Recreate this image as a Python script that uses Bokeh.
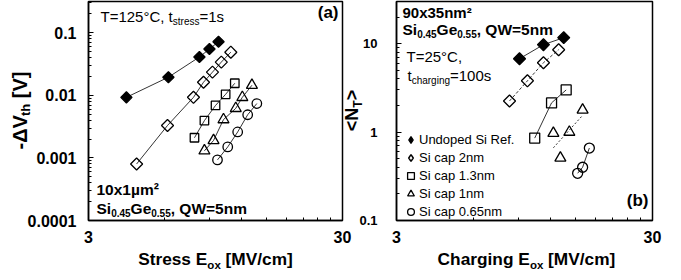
import math
import numpy as np
from bokeh.plotting import figure
from bokeh.layouts import row
from bokeh.models import (FixedTicker, CustomJSTickFormatter, Label, Legend,
                          LegendItem, Range1d, GridBox)
from bokeh.embed import file_html
from bokeh.resources import INLINE

# ---------------- data ----------------
# panel (a): stress E_ox [MV/cm] vs -dVth [V]
a_ref_E = [4.23, 6.19, 8.2, 8.98, 9.75]
a_ref_V = [0.0093, 0.0195, 0.041, 0.055, 0.072]
a_2nm_E = [4.64, 6.14, 7.77, 8.51, 9.23, 10.0, 10.9]
a_2nm_V = [0.0008, 0.0033, 0.0093, 0.0162, 0.0235, 0.034, 0.049]
a_13nm_E = [7.84, 8.58, 9.49, 10.4, 11.3]
a_13nm_V = [0.0021, 0.00395, 0.0069, 0.0104, 0.0156]
a_1nm_E = [8.58, 9.32, 10.2, 11.4, 12.1, 13.2]
a_1nm_V = [0.0013, 0.0019, 0.0041, 0.0062, 0.0093, 0.0145]
a_065nm_E = [9.66, 10.6, 11.6, 12.7, 13.8]
a_065nm_V = [0.00093, 0.0015, 0.0026, 0.0049, 0.0074]

# panel (b): charging E_ox [MV/cm] vs <N_T>
b_ref_E = [9.07, 11.25, 13.5]
b_ref_N = [6.76, 9.74, 11.7]
b_2nm_E = [8.29, 9.74, 11.25, 12.9]
b_2nm_N = [2.25, 3.8, 6.09, 8.55]
b_13nm_E = [10.4, 12.1, 13.8]
b_13nm_N = [0.855, 2.14, 3.0]
b_1nm_E = [12.3, 13.1, 14.2, 16.0]
b_1nm_N = [0.97, 0.51, 1.0, 1.78]
b_065nm_E = [15.3, 16.0, 17.0]
b_065nm_N = [0.342, 0.40, 0.66]

series_names = ["Undoped Si Ref.", "Si cap 2nm", "Si cap 1.3nm", "Si cap 1nm", "Si cap 0.65nm"]

x_major = [3, 30]
x_minor = [6, 9, 12, 15, 18, 21, 24, 27]
ya_major = [1e-4, 1e-3, 1e-2, 1e-1]
yb_major = [0.1, 1, 10]

FONT = "Liberation Sans"
TOTAL_W, TOTAL_H = 665, 270

# ---------------- text helpers ----------------
REG = {' ': 278, ',': 278, '.': 278, '=': 584, '°': 400, 'C': 722, 'T': 611,
       'a': 556, 'c': 500, 'e': 556, 'g': 556, 'h': 556, 'i': 222, 'n': 556,
       'r': 333, 's': 500, 't': 278, 'x': 500, 'm': 833}
BOLD = {' ': 278, ',': 278, '.': 278, '=': 584, 'x': 556, 'µ': 611, 'm': 889,
        'n': 611, 'S': 667, 'i': 278, 'G': 778, 'e': 556, 'Q': 778, 'W': 944,
        '(': 333, ')': 333, 'a': 556, 'b': 611, 't': 333, 'r': 389, 's': 556,
        'E': 667, 'o': 611, '[': 333, ']': 333, 'M': 833, 'V': 667, '/': 278,
        'c': 556, 'C': 722, 'h': 611, 'g': 611, '-': 333, 'Δ': 667, '<': 584,
        '>': 584, 'N': 722, 'T': 611, '²': 333}
MID = 0.35   # distance baseline -> middle of the em box, in em


def tw(s, size, bold):
    tbl = BOLD if bold else REG
    return sum(tbl.get(ch, 556) for ch in s) * size / 1000.0


def rich(p, x, y, parts, align="left", angle=0.0):
    """parts: (text, size_px, bold, baseline_drop_px); (x, y): baseline start,
    px from the frame's bottom-left corner"""
    total = sum(tw(t, s, b) for t, s, b, d in parts)
    pos = {"left": 0.0, "center": -total / 2, "right": -total}[align]
    for t, s, b, d in parts:
        lead = len(t) - len(t.lstrip(" "))
        pos += tw(" " * lead, s, b)          # SVG drops leading blanks
        t = t.lstrip(" ")
        if angle == 0:
            lx, ly = x + pos, y - d + MID * s
        else:
            lx, ly = x + d - MID * s, y + pos
        p.add_layout(Label(x=lx, y=ly, x_units="screen", y_units="screen", text=t,
                           angle=angle, text_font=FONT, text_font_size=f"{s}px",
                           text_font_style="bold" if b else "normal",
                           text_color="black", text_align="left",
                           text_baseline="middle"))
        pos += tw(t, s, b)


def minors(lo_exp, hi_exp):
    return [k * 10.0 ** e for e in range(lo_exp, hi_exp + 1) for k in range(2, 10)]


def style(p, ymaj, ymin, ystandoff, ysize):
    p.xgrid.visible = False
    p.ygrid.visible = False
    p.outline_line_color = "black"
    p.outline_line_width = 1.5
    p.background_fill_color = "white"
    p.border_fill_color = "white"
    fmt = CustomJSTickFormatter(code="return tick.toString();")
    p.xaxis.ticker = FixedTicker(ticks=x_major, minor_ticks=x_minor)
    p.yaxis.ticker = FixedTicker(ticks=ymaj, minor_ticks=ymin)
    for ax in (p.xaxis, p.yaxis):
        ax.formatter = fmt
        ax.axis_line_width = 1.5
        ax.axis_line_color = "black"
        ax.major_tick_in = 5
        ax.major_tick_out = 0
        ax.minor_tick_in = 3
        ax.minor_tick_out = 0
        ax.major_tick_line_color = "black"
        ax.minor_tick_line_color = "black"
        ax.major_label_text_font = FONT
        ax.major_label_text_font_style = "bold"
        ax.major_label_text_color = "black"
    p.xaxis.major_label_text_font_size = "16px"
    p.yaxis.major_label_text_font_size = ysize
    p.xaxis.major_label_standoff = 10
    p.yaxis.major_label_standoff = ystandoff


LW = 0.8

# ---------------- panel (a) ----------------
p1 = figure(width=356, height=TOTAL_H, x_axis_type="log", y_axis_type="log",
            x_range=Range1d(3, 30), y_range=Range1d(1e-4, 10 ** -0.5),
            output_backend="svg", toolbar_location=None,
            min_border_left=88, min_border_right=14, min_border_top=1,
            min_border_bottom=50)
style(p1, ya_major, minors(-4, -1), 12, "16px")

p1.line(a_ref_E, a_ref_V, line_color="black", line_width=LW)
p1.line(a_2nm_E, a_2nm_V, line_color="black", line_width=LW)
p1.line(a_13nm_E, a_13nm_V, line_color="black", line_width=LW)
p1.line(a_1nm_E, a_1nm_V, line_color="black", line_width=LW)
p1.line(a_065nm_E, a_065nm_V, line_color="black", line_width=LW)
p1.scatter(a_ref_E, a_ref_V, marker="square", angle=math.pi / 4, size=8,
           fill_color="black", line_color="black", line_width=1.2)
p1.scatter(a_2nm_E, a_2nm_V, marker="square", angle=math.pi / 4, size=8.5,
           fill_color=None, line_color="black", line_width=1.3)
p1.scatter(a_13nm_E, a_13nm_V, marker="square", size=8.5,
           fill_color=None, line_color="black", line_width=1.3)
p1.scatter(a_1nm_E, a_1nm_V, marker="triangle", size=11,
           fill_color=None, line_color="black", line_width=1.3)
p1.scatter(a_065nm_E, a_065nm_V, marker="circle", size=9.5,
           fill_color=None, line_color="black", line_width=1.3)

rich(p1, 12, 199, [("T=125°C, t", 15, False, 0), ("stress", 10, False, 3),
                   ("=1s", 15, False, 0)])
rich(p1, 250, 202, [("(a)", 17, True, 0)], align="right")
rich(p1, 8, 26, [("10x1µm²", 15.5, True, 0)])
rich(p1, 8, 7, [("Si", 15.5, True, 0), ("0.45", 10, True, 3), ("Ge", 15.5, True, 0),
                ("0.55", 10, True, 3), (", QW=5nm", 15.5, True, 0)])

# ---------------- panel (b) ----------------
p2 = figure(width=309, height=TOTAL_H, x_axis_type="log", y_axis_type="log",
            x_range=Range1d(3, 30), y_range=Range1d(0.1, 30),
            output_backend="svg", toolbar_location=None,
            min_border_left=40, min_border_right=13, min_border_top=1,
            min_border_bottom=50)
style(p2, yb_major, minors(-1, 1), 19, "13px")

p2.line(b_ref_E, b_ref_N, line_color="black", line_width=LW)
p2.line(b_2nm_E, b_2nm_N, line_color="black", line_width=LW, line_dash="3 2")
p2.line(b_13nm_E, b_13nm_N, line_color="black", line_width=LW)
p2.line(b_065nm_E, b_065nm_N, line_color="black", line_width=LW)
# trend line for the 1nm series (least squares in log-log space)
lx = np.log10(b_1nm_E)
ly = np.log10(b_1nm_N)
k, c = np.polyfit(lx, ly, 1)
fit_E = [min(b_1nm_E), max(b_1nm_E)]
fit_N = [10 ** (c + k * math.log10(e)) for e in fit_E]
p2.line(fit_E, fit_N, line_color="black", line_width=LW, line_dash="2 2")

p2.scatter(b_ref_E, b_ref_N, marker="square", angle=math.pi / 4, size=8.5,
           fill_color="black", line_color="black", line_width=1.2)
p2.scatter(b_2nm_E, b_2nm_N, marker="square", angle=math.pi / 4, size=8.5,
           fill_color=None, line_color="black", line_width=1.3)
r3 = p2.scatter(b_13nm_E, b_13nm_N, marker="square", size=10,
                fill_color=None, line_color="black", line_width=1.3)
r4 = p2.scatter(b_1nm_E, b_1nm_N, marker="triangle", size=11,
                fill_color=None, line_color="black", line_width=1.3)
r5 = p2.scatter(b_065nm_E, b_065nm_N, marker="circle", size=10,
                fill_color=None, line_color="black", line_width=1.3)
# legend glyphs for the diamond series (the legend cannot rotate markers):
# same data drawn with zero size, so only the legend shows them
r1 = p2.scatter(b_ref_E, b_ref_N, marker="diamond", size=0,
                fill_color="black", line_color="black", line_width=1.2)
r2 = p2.scatter(b_2nm_E, b_2nm_N, marker="diamond", size=0,
                fill_color=None, line_color="black", line_width=1.5)

legend = Legend(items=[LegendItem(label=n, renderers=[r]) for n, r in
                       zip(series_names, [r1, r2, r3, r4, r5])],
                location=(6, 0), padding=0, margin=0, spacing=1,
                glyph_width=17, glyph_height=17, label_height=17,
                label_standoff=0, label_text_font=FONT,
                label_text_font_size="13px", label_text_color="black",
                background_fill_alpha=0, border_line_alpha=0)
p2.add_layout(legend)

rich(p2, 6, 203, [("90x35nm²", 15, True, 0)])
rich(p2, 6, 186, [("Si", 15.5, True, 0), ("0.45", 10, True, 3), ("Ge", 15.5, True, 0),
                  ("0.55", 10, True, 3), (", QW=5nm", 15.5, True, 0)])
rich(p2, 10, 159, [("T=25°C,", 15, False, 0)])
rich(p2, 11, 140, [("t", 15, False, 0), ("charging", 10, False, 3),
                   ("=100s", 15, False, 0)])
rich(p2, 252, 14, [("(b)", 17, True, 0)], align="right")

# ---------------- transparent overlay for the axis titles ----------------
ov = figure(width=TOTAL_W, height=TOTAL_H, x_range=Range1d(0, TOTAL_W),
            y_range=Range1d(0, TOTAL_H), x_axis_location=None,
            y_axis_location=None, output_backend="svg", toolbar_location=None,
            min_border_left=0, min_border_right=0, min_border_top=0,
            min_border_bottom=0)
ov.grid.visible = False
ov.outline_line_color = None
ov.background_fill_alpha = 0
ov.border_fill_alpha = 0

# coordinates here: px from the canvas' left / bottom edge
rich(ov, 215, TOTAL_H - 265, [("Stress E", 17.3, True, 0), ("ox", 11.5, True, 4),
                              (" [MV/cm]", 17.3, True, 0)], align="center")
rich(ov, 526, TOTAL_H - 265, [("Charging E", 17.3, True, 0), ("ox", 11.5, True, 4),
                              (" [MV/cm]", 17.3, True, 0)], align="center")
rich(ov, 26, TOTAL_H - 110, [("-ΔV", 20, True, 0), ("th", 13, True, 4),
                             (" [V]", 20, True, 0)], align="center", angle=math.pi / 2)
rich(ov, 358, TOTAL_H - 110, [("<N", 18, True, 0), ("T", 12, True, 4),
                              (">", 18, True, 0)], align="center", angle=math.pi / 2)

charts = row(p1, p2)
layout = GridBox(children=[(charts, 0, 0), (ov, 0, 0)], spacing=0)
open("out.html", "w").write(file_html(layout, INLINE))
